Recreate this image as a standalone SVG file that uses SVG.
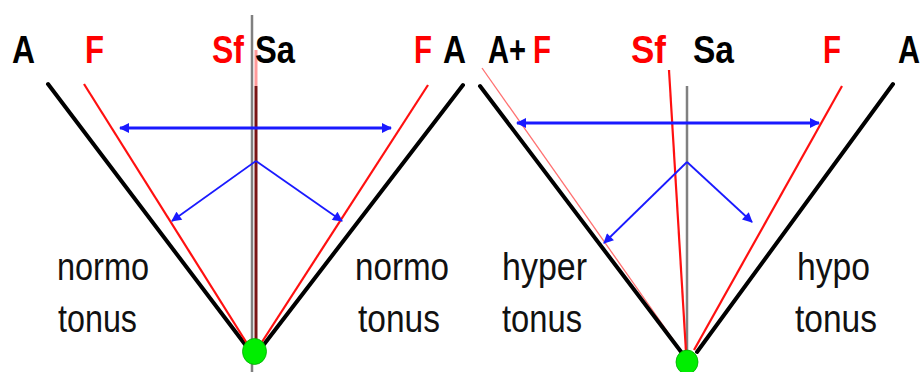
<svg xmlns="http://www.w3.org/2000/svg" width="924" height="372" viewBox="0 0 924 372">
<style>
.b{font-family:"Liberation Sans",Arial,sans-serif;font-weight:bold;font-size:39px}
.l{font-family:"Liberation Sans",Arial,sans-serif;font-size:38px;fill:#111}
.k{fill:#000}.r{fill:#ff0000}
.blk{stroke:#000;stroke-width:4;fill:none;stroke-linecap:round}
.red{stroke:#ff1010;stroke-width:2.2;fill:none}
.gry{stroke:#808080;stroke-width:2.5;fill:none}
.ah{stroke:#1a1aff;stroke-width:3;fill:none}
.av{stroke:#1a1aff;stroke-width:1.8;fill:none}
.dot{fill:#00ee00;stroke:#00aa00;stroke-width:0.8}
</style>
<defs>
<marker id="ar" viewBox="0 0 10 10" refX="9" refY="5" markerWidth="11" markerHeight="10" markerUnits="userSpaceOnUse" orient="auto-start-reverse">
<path d="M0,0 L10,5 L0,10 z" fill="#1a1aff"/>
</marker>
</defs>
<rect width="924" height="372" fill="#fff"/>
<g id="left-panel">
<g id="axes-left">
<line class="gry" x1="252" y1="15" x2="252" y2="372" stroke-width="3"/>
<line x1="256" y1="50" x2="256" y2="86" stroke="#ff9a9a" stroke-width="3"/>
<line x1="256" y1="86" x2="256" y2="345" stroke="#7a1414" stroke-width="3"/>
<line class="blk" x1="48" y1="84" x2="247" y2="347"/>
<line class="red" x1="84" y1="84" x2="248" y2="345"/>
<line class="red" x1="428" y1="85" x2="260" y2="345"/>
<line class="blk" x1="463" y1="85" x2="262" y2="347"/>
</g>
<g id="dot-left"><ellipse class="dot" cx="254.5" cy="351.5" rx="12" ry="13"/></g>
<g id="labels-left">
<text class="b k" x="12" y="63" textLength="23" lengthAdjust="spacingAndGlyphs">A</text>
<text class="b r" x="85" y="63" textLength="19" lengthAdjust="spacingAndGlyphs">F</text>
<text class="b r" x="212" y="63" textLength="32" lengthAdjust="spacingAndGlyphs">Sf</text>
<text class="b k" x="255" y="63" textLength="40" lengthAdjust="spacingAndGlyphs">Sa</text>
<text class="b r" x="414" y="63" textLength="18" lengthAdjust="spacingAndGlyphs">F</text>
<text class="b k" x="443" y="63" textLength="23" lengthAdjust="spacingAndGlyphs">A</text>
<text class="l" x="57" y="280" textLength="92" lengthAdjust="spacingAndGlyphs">normo</text>
<text class="l" x="58" y="332" textLength="79" lengthAdjust="spacingAndGlyphs">tonus</text>
<text class="l" x="355" y="280" textLength="94" lengthAdjust="spacingAndGlyphs">normo</text>
<text class="l" x="358" y="332" textLength="82" lengthAdjust="spacingAndGlyphs">tonus</text>
</g>
</g>
<g id="right-panel">
<g id="axes-right">
<line class="gry" x1="687" y1="86" x2="687" y2="372" stroke-width="3"/>
<line x1="482" y1="68" x2="684" y2="355" stroke="#ff7070" stroke-width="1.3"/>
<line class="blk" x1="480" y1="86" x2="685" y2="357"/>
<line class="red" x1="669" y1="70" x2="686" y2="352"/>
<line class="red" x1="842" y1="86" x2="694" y2="350"/>
<line class="blk" x1="893" y1="84" x2="697" y2="352"/>
</g>
<g id="dot-right"><ellipse class="dot" cx="687" cy="362" rx="11" ry="12"/></g>
<g id="labels-right">
<text class="b k" x="488" y="63" textLength="38" lengthAdjust="spacingAndGlyphs">A+</text>
<text class="b r" x="533" y="63" textLength="18" lengthAdjust="spacingAndGlyphs">F</text>
<text class="b r" x="631" y="63" textLength="35" lengthAdjust="spacingAndGlyphs">Sf</text>
<text class="b k" x="693" y="63" textLength="41" lengthAdjust="spacingAndGlyphs">Sa</text>
<text class="b r" x="823" y="63" textLength="18" lengthAdjust="spacingAndGlyphs">F</text>
<text class="b k" x="898" y="63" textLength="22" lengthAdjust="spacingAndGlyphs">A</text>
<text class="l" x="502" y="280" textLength="85" lengthAdjust="spacingAndGlyphs">hyper</text>
<text class="l" x="502" y="332" textLength="80" lengthAdjust="spacingAndGlyphs">tonus</text>
<text class="l" x="797" y="280" textLength="73" lengthAdjust="spacingAndGlyphs">hypo</text>
<text class="l" x="795" y="332" textLength="82" lengthAdjust="spacingAndGlyphs">tonus</text>
</g>
</g>
<g id="connectors">
<line class="ah" x1="120" y1="128" x2="391" y2="128" marker-start="url(#ar)" marker-end="url(#ar)"/>
<polyline class="av" points="172,221 256,161" marker-start="url(#ar)"/>
<polyline class="av" points="256,161 342,221" marker-end="url(#ar)"/>
<line class="ah" x1="517" y1="123" x2="819" y2="123" marker-start="url(#ar)" marker-end="url(#ar)"/>
<polyline class="av" points="604,243 687,162" marker-start="url(#ar)"/>
<polyline class="av" points="687,162 752,222" marker-end="url(#ar)"/>
</g>
</svg>
